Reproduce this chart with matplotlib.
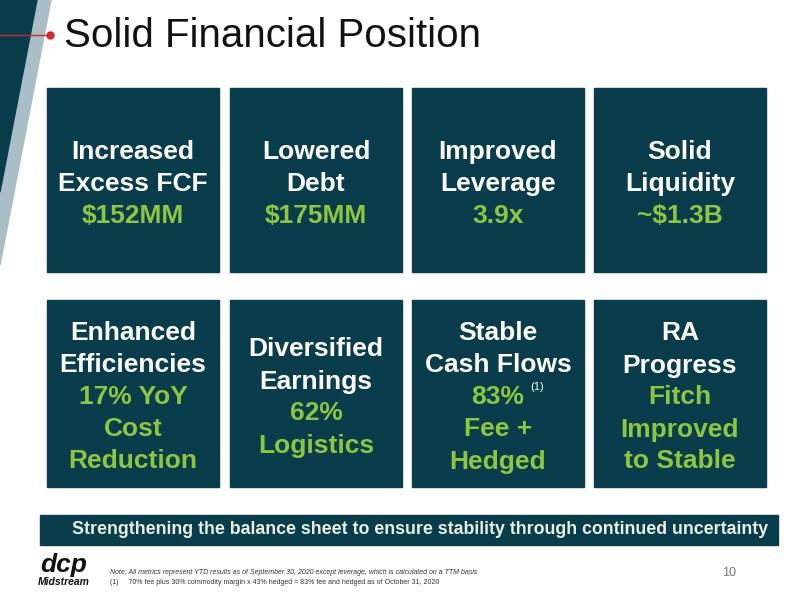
import matplotlib
matplotlib.use("Agg")
import matplotlib.pyplot as plt
from matplotlib.patches import Rectangle, Polygon

title = "Solid Financial Position"
headlines = ["Increased\nExcess FCF", "Lowered\nDebt", "Improved\nLeverage", "Solid\nLiquidity",
             "Enhanced\nEfficiencies", "Diversified\nEarnings", "Stable\nCash Flows", "RA\nProgress"]
metrics = ["$152MM", "$175MM", "3.9x", "~$1.3B",
           "17% YoY\nCost\nReduction", "62%\nLogistics", "83%\nFee +\nHedged", "Fitch\nImproved\nto Stable"]
banner = "Strengthening the balance sheet to ensure stability through continued uncertainty"
notes = ["Note: All metrics represent YTD results as of September 30, 2020 except leverage, which is calculated on a TTM basis",
         "(1)     70% fee plus 30% commodity margin x 43% hedged = 83% fee and hedged as of October 31, 2020"]
page = "10"

DARK = "#0A3D4C"; GREEN = "#8DC63F"; STRIPE = "#A9BEC6"

fig = plt.figure(figsize=(8, 6), dpi=100)
ax = fig.add_axes([0, 0, 1, 1])
ax.set_xlim(0, 800); ax.set_ylim(600, 0); ax.axis("off")

ax.add_patch(Polygon([(0, 0), (51, 0), (0, 265)], color=STRIPE))
ax.add_patch(Polygon([(0, 0), (37, 0), (0, 192)], color=DARK))
ax.plot([0, 50], [35, 35], color="#D9262B", lw=1)
ax.plot([50], [35], "o", color="#D9262B", ms=5)
ax.text(64, 36, title, fontsize=29, va="center", ha="left", color="#111111", family="Liberation Sans")

xs = [47, 230, 412, 594]; w = 172
rows = [(88, 184), (300, 187)]
for i in range(8):
    r = i // 4; c = i % 4
    x = xs[c]; y, h = rows[r]
    ax.add_patch(Rectangle((x, y), w, h, color=DARK))
    cx = x + w / 2
    nh = headlines[i].count("\n") + 1
    nm = metrics[i].count("\n") + 1
    lh = 32
    total = (nh + nm) * lh
    top = y + h / 2 - total / 2 + 4
    for j, line in enumerate(headlines[i].split("\n")):
        ax.text(cx, top + lh * j + lh / 2, line, ha="center", va="center", color="white",
                fontsize=19, fontweight="bold", family="Liberation Sans")
    for j, line in enumerate(metrics[i].split("\n")):
        ax.text(cx, top + lh * (nh + j) + lh / 2, line, ha="center", va="center", color=GREEN,
                fontsize=19, fontweight="bold", family="Liberation Sans")
    if i == 6:
        ax.text(cx + 39, top + lh * nh + 6, "(1)", ha="center", va="center", color="white",
                fontsize=8, family="Liberation Sans")

ax.add_patch(Rectangle((40, 515), 738, 30, color=DARK))
ax.text(420, 530, banner, ha="center", va="center", color="#E8F0E0", fontsize=12.8,
        fontweight="bold", family="Liberation Sans")

ax.text(64, 565, "dcp", ha="center", va="center", fontsize=19, fontweight="bold",
        style="italic", color="#111111", family="Liberation Sans")
ax.text(64, 582, "Midstream", ha="center", va="center", fontsize=7.5, fontweight="bold",
        style="italic", color="#111111", family="Liberation Sans")
ax.text(110, 573, notes[0], fontsize=5, style="italic", va="center", color="#333333", family="Liberation Sans")
ax.text(110, 583, notes[1], fontsize=5, va="center", color="#333333", family="Liberation Sans")
ax.text(722, 573, page, fontsize=9, va="center", color="#777777", family="Liberation Sans")

fig.savefig("out.png", dpi=100)
